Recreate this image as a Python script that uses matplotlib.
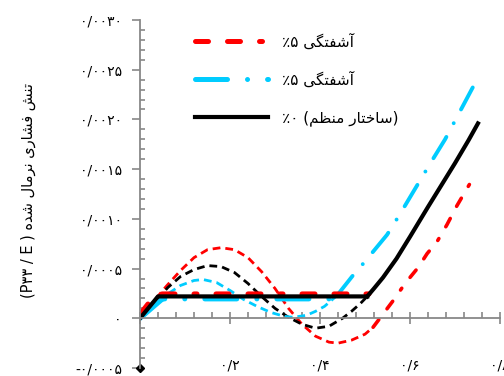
import matplotlib
matplotlib.use('Agg')
import matplotlib.pyplot as plt
from matplotlib.ticker import MultipleLocator

plt.rcParams['font.family'] = ['DejaVu Sans']

# contextual forms for the persian letters used (iso, fin, ini, med)
FORMS = {
    'ا': ('\uFE8D', '\uFE8E'),
    'آ': ('\uFE81', '\uFE82'),
    'د': ('\uFEA9', '\uFEAA'),
    'ر': ('\uFEAD', '\uFEAE'),
    'ز': ('\uFEAF', '\uFEB0'),
    'ت': ('\uFE95', '\uFE96', '\uFE97', '\uFE98'),
    'خ': ('\uFEA5', '\uFEA6', '\uFEA7', '\uFEA8'),
    'س': ('\uFEB1', '\uFEB2', '\uFEB3', '\uFEB4'),
    'ش': ('\uFEB5', '\uFEB6', '\uFEB7', '\uFEB8'),
    'ظ': ('\uFEC5', '\uFEC6', '\uFEC7', '\uFEC8'),
    'ف': ('\uFED1', '\uFED2', '\uFED3', '\uFED4'),
    'ل': ('\uFEDD', '\uFEDE', '\uFEDF', '\uFEE0'),
    'م': ('\uFEE1', '\uFEE2', '\uFEE3', '\uFEE4'),
    'ن': ('\uFEE5', '\uFEE6', '\uFEE7', '\uFEE8'),
    'ه': ('\uFEE9', '\uFEEA', '\uFEEB', '\uFEEC'),
    'ی': ('\uFBFC', '\uFBFD', '\uFBFE', '\uFBFF'),
    'گ': ('\uFB92', '\uFB93', '\uFB94', '\uFB95'),
}


def fa(s):
    out = []
    for i, ch in enumerate(s):
        if ch not in FORMS:
            out.append(ch)
            continue
        f = FORMS[ch]
        prev = s[i - 1] if i > 0 else ''
        nxt = s[i + 1] if i + 1 < len(s) else ''
        jp = prev in FORMS and len(FORMS[prev]) == 4
        jn = len(f) == 4 and nxt in FORMS
        if jp and jn:
            out.append(f[3])
        elif jp:
            out.append(f[1])
        elif jn:
            out.append(f[2])
        else:
            out.append(f[0])
    return ''.join(reversed(out))


# data (y in units of 1e-3)
red_wave_x = [0.0, 0.03, 0.06, 0.09, 0.12, 0.15, 0.18, 0.21, 0.24, 0.27, 0.30, 0.33, 0.36, 0.39, 0.42, 0.44, 0.47, 0.50, 0.518]
red_wave_y = [0.0, 0.17, 0.33, 0.48, 0.61, 0.69, 0.71, 0.69, 0.61, 0.47, 0.30, 0.10, -0.06, -0.18, -0.24, -0.25, -0.22, -0.16, -0.09]
black_wave_x = [0.0, 0.03, 0.062, 0.09, 0.12, 0.15, 0.18, 0.21, 0.24, 0.27, 0.30, 0.33, 0.36, 0.39, 0.42, 0.45, 0.47, 0.49, 0.505]
black_wave_y = [0.0, 0.15, 0.31, 0.42, 0.49, 0.53, 0.52, 0.46, 0.35, 0.22, 0.10, 0.01, -0.06, -0.10, -0.08, 0.0, 0.07, 0.15, 0.22]
cyan_wave_x = [0.0, 0.03, 0.06, 0.09, 0.12, 0.14, 0.17, 0.20, 0.23, 0.26, 0.29, 0.32, 0.34, 0.37, 0.39, 0.41, 0.438]
cyan_wave_y = [0.0, 0.12, 0.24, 0.33, 0.38, 0.39, 0.36, 0.28, 0.19, 0.12, 0.06, 0.02, 0.01, 0.03, 0.07, 0.12, 0.23]

red_plat_x = [0.0, 0.035, 0.545]
red_plat_y = [0.04, 0.245, 0.245]
cyan_plat_x = [0.0, 0.05, 0.438]
cyan_plat_y = [0.0, 0.195, 0.195]
black_plat_x = [0.0, 0.04, 0.505]
black_plat_y = [0.0, 0.22, 0.22]

red_rise_x = [0.518, 0.538, 0.563, 0.589, 0.618, 0.638, 0.66, 0.682, 0.704, 0.726, 0.747]
red_rise_y = [-0.09, 0.03, 0.18, 0.35, 0.51, 0.65, 0.77, 0.94, 1.13, 1.30, 1.46]
black_rise_x = [0.505, 0.52, 0.54, 0.57, 0.60, 0.64, 0.67, 0.70, 0.73, 0.751]
black_rise_y = [0.22, 0.30, 0.41, 0.60, 0.82, 1.12, 1.34, 1.56, 1.79, 1.96]
cyan_rise_x = [0.438, 0.473, 0.496, 0.518, 0.549, 0.578, 0.607, 0.644, 0.678, 0.711, 0.751]
cyan_rise_y = [0.23, 0.43, 0.55, 0.67, 0.84, 1.05, 1.27, 1.55, 1.80, 2.08, 2.42]

x_lim = (0, 0.8)
y_lim = (-0.0005, 0.003)
y_ticks = [-0.0005, 0.0, 0.0005, 0.001, 0.0015, 0.002, 0.0025, 0.003]
y_tick_labels = ['-۰/۰۰۰۵', '۰', '۰/۰۰۰۵', '۰/۰۰۱۰', '۰/۰۰۱۵', '۰/۰۰۲۰', '۰/۰۰۲۵', '۰/۰۰۳۰']
x_ticks = [0.2, 0.4, 0.6, 0.8]
x_tick_labels = ['۰/۲', '۰/۴', '۰/۶', '۰/۸']

red_label = '٪۵ ' + fa('آشفتگی')
cyan_label = '٪۵ ' + fa('آشفتگی')
black_label = '٪۰ (' + fa('ساختار منظم') + ')'
y_label = '(P۳۳ / E ) ' + fa('تنش فشاری نرمال شده')

RED = '#ff0000'
CYAN = '#00ccff'
red_style = dict(color=RED, lw=3.6, dashes=(2.6, 3.8, 2.6, 3.8, 0.6, 3.8), dash_capstyle='round')
cyan_style = dict(color=CYAN, lw=3.6, dashes=(6.4, 4, 0.01, 4), dash_capstyle='round')
wave_style = dict(lw=2.0, dashes=(2.8, 1.8))


def sc(v):
    return [a * 1e-3 for a in v]


fig = plt.figure(figsize=(5.04, 3.76), dpi=100)
ax = fig.add_axes([140 / 504, 8 / 376, 360 / 504, 348 / 376])

# thin dashed waves
ax.plot(red_wave_x, sc(red_wave_y), color=RED, **wave_style)
ax.plot(black_wave_x, sc(black_wave_y), color='black', **wave_style)
ax.plot(cyan_wave_x, sc(cyan_wave_y), color=CYAN, **wave_style)

# thick lines
lc, = ax.plot(cyan_plat_x, sc(cyan_plat_y), label=cyan_label, **cyan_style)
ax.plot(cyan_rise_x, sc(cyan_rise_y), **dict(cyan_style, lw=2.8))
lr, = ax.plot(red_plat_x, sc(red_plat_y), label=red_label, **red_style)
ax.plot(red_rise_x, sc(red_rise_y), **dict(red_style, lw=2.6))
lb, = ax.plot(black_plat_x, sc(black_plat_y), color='black', lw=3.0, label=black_label)
ax.plot(black_rise_x, sc(black_rise_y), color='black', lw=3.0)

ax.set_xlim(*x_lim)
ax.set_ylim(*y_lim)

for s in ['top', 'right']:
    ax.spines[s].set_visible(False)
ax.spines['bottom'].set_position(('data', 0))
for s in ['left', 'bottom']:
    ax.spines[s].set_color('#888888')
    ax.spines[s].set_linewidth(1.3)

ax.xaxis.set_major_locator(MultipleLocator(0.2))
ax.xaxis.set_minor_locator(MultipleLocator(0.04))
ax.yaxis.set_minor_locator(MultipleLocator(0.0001))
ax.set_yticks(y_ticks, y_tick_labels)
ax.tick_params(axis='x', which='major', direction='inout', length=9, width=1.2, color='#888888', labelbottom=False)
ax.tick_params(axis='x', which='minor', direction='in', length=4, width=1.2, color='#888888')
ax.tick_params(axis='y', which='major', direction='out', length=6, width=1.2, color='#888888', labelsize=10, pad=7)
ax.tick_params(axis='y', which='minor', direction='in', length=3.5, width=1.2, color='#888888')

for xv, lbl in zip(x_ticks, x_tick_labels):
    ax.text(xv, y_lim[0] + 0.00003, lbl, ha='center', va='center', fontsize=10, clip_on=False)

ax.plot(x_lim[0], y_lim[0], marker='D', color='black', ms=4, clip_on=False)

fig.text(28 / 504, 1 - 190 / 376, y_label, rotation=90, ha='center', va='center', fontsize=10.5)

ax.legend(handles=[lr, lc, lb], loc='upper left', bbox_to_anchor=(195 / 504, 1 - 33 / 376),
          bbox_transform=fig.transFigure, frameon=False, borderpad=0, borderaxespad=0,
          handlelength=4.8, handletextpad=0.9, labelspacing=1.45, fontsize=11)

fig.savefig('out.png', dpi=100)
